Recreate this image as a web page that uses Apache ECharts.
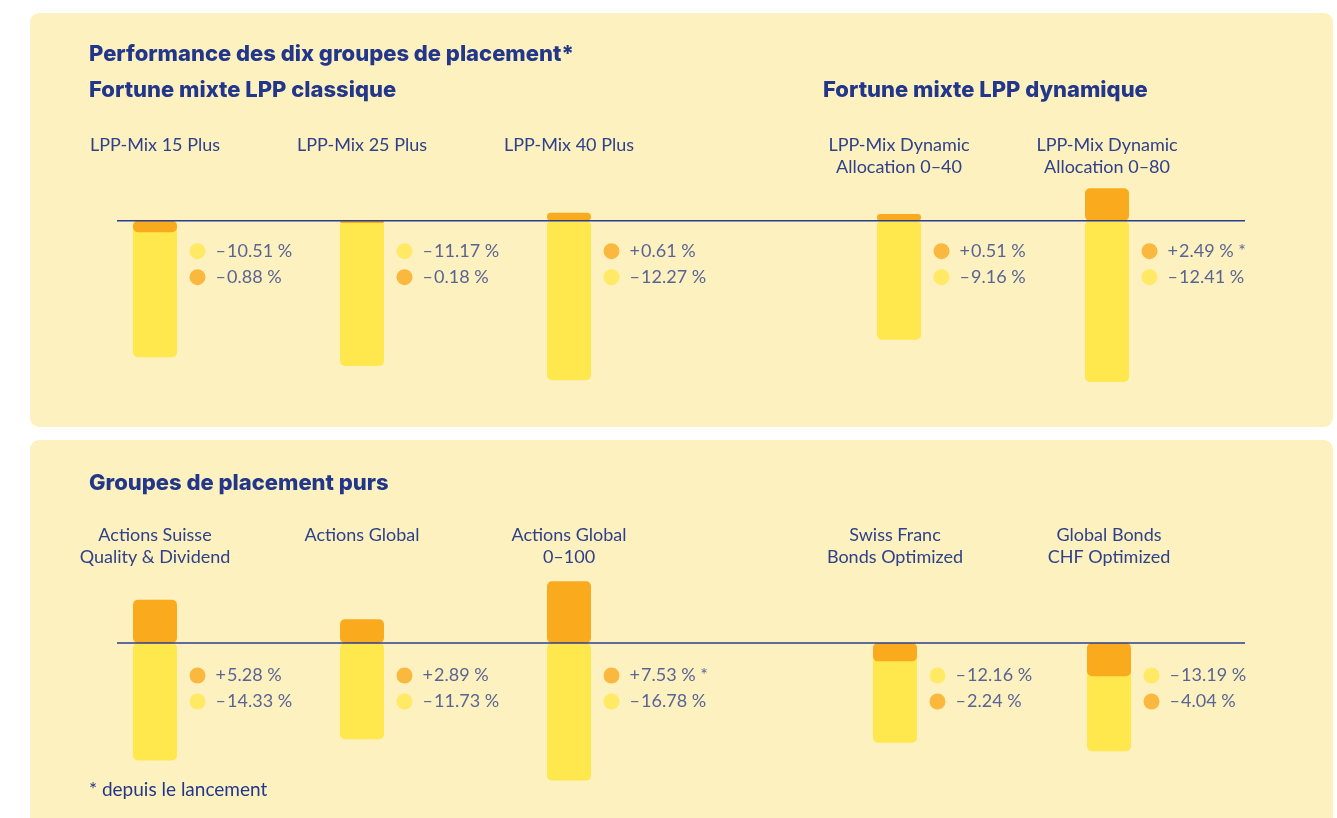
<!DOCTYPE html>
<html>
<head>
<meta charset="utf-8">
<script src="https://cdn.jsdelivr.net/npm/echarts@6/dist/echarts.min.js"></script>
<style>
  html, body { margin: 0; padding: 0; background: #fff; }
  #main { width: 1337px; height: 818px; }
</style>
</head>
<body>
<div id="main"></div>
<script>
// data
const classicNames = ["LPP-Mix 15 Plus", "LPP-Mix 25 Plus", "LPP-Mix 40 Plus"];
const classicYellow = [-10.51, -11.17, -12.27];
const classicOrange = [-0.88, -0.18, 0.61];
const classicStar = [false, false, false];

const dynamicNames = ["LPP-Mix Dynamic\nAllocation 0–40", "LPP-Mix Dynamic\nAllocation 0–80"];
const dynamicYellow = [-9.16, -12.41];
const dynamicOrange = [0.51, 2.49];
const dynamicStar = [false, true];

const pureLeftNames = ["Actions Suisse\nQuality & Dividend", "Actions Global", "Actions Global\n0–100"];
const pureLeftYellow = [-14.33, -11.73, -16.78];
const pureLeftOrange = [5.28, 2.89, 7.53];
const pureLeftStar = [false, false, true];

const pureRightNames = ["Swiss Franc\nBonds Optimized", "Global Bonds\nCHF Optimized"];
const pureRightYellow = [-12.16, -13.19];
const pureRightOrange = [-2.24, -4.04];
const pureRightStar = [false, false];

const NAVY = "#22378a";
const TEXT = "#2f4189";
const YELLOW = "#ffe74e";
const ORANGE = "#f9ab1d";
const PANEL = "#fdf1c0";
const FONT = "Lato, 'Noto Sans', sans-serif";
const HEAD_FONT = "Inter, Lato, sans-serif";

// panel layouts (value range + pixel placement of the zero line)
const panels = [
  { min: -14, max: 3, top: 181.7, height: 221, labelMargin: 47.7, valueDy: 18 },
  { min: -18, max: 8, top: 577.4, height: 213.2, labelMargin: 53.4, valueDy: 20 }
];

const groups = [
  { panel: 0, left: 51.5, width: 621, names: classicNames, yellow: classicYellow, orange: classicOrange, star: classicStar },
  { panel: 0, left: 795, width: 416, names: dynamicNames, yellow: dynamicYellow, orange: dynamicOrange, star: dynamicStar },
  { panel: 1, left: 51.5, width: 621, names: pureLeftNames, yellow: pureLeftYellow, orange: pureLeftOrange, star: pureLeftStar },
  { panel: 1, left: 788, width: 428, names: pureRightNames, yellow: pureRightYellow, orange: pureRightOrange, star: pureRightStar }
];

function fmt(v, star) {
  return (v < 0 ? "–" : "+") + "\u200a" + Math.abs(v).toFixed(2) + " %" + (star ? " *" : "");
}

const grid = [], xAxis = [], yAxis = [], series = [];
groups.forEach(function (g, gi) {
  const p = panels[g.panel];
  grid.push({ left: g.left, width: g.width, top: p.top, height: p.height });
  xAxis.push({
    type: "category",
    gridIndex: gi,
    position: "top",
    data: g.names,
    axisLine: { show: false },
    axisTick: { show: false },
    axisLabel: {
      interval: 0,
      margin: p.labelMargin,
      verticalAlign: "top",
      lineHeight: 22,
      fontSize: 18,
      fontFamily: FONT,
      color: TEXT
    }
  });
  yAxis.push({ type: "value", gridIndex: gi, min: p.min, max: p.max, show: false });
  series.push({
    type: "bar", xAxisIndex: gi, yAxisIndex: gi,
    data: g.yellow, barWidth: 44, barGap: "-100%",
    itemStyle: { color: YELLOW, borderRadius: 5 }
  });
  series.push({
    type: "bar", xAxisIndex: gi, yAxisIndex: gi,
    data: g.orange, barWidth: 44, barGap: "-100%",
    itemStyle: { color: ORANGE, borderRadius: 5 }
  });
  // label anchors on the zero line
  series.push({
    type: "scatter", xAxisIndex: gi, yAxisIndex: gi,
    data: g.names.map(function () { return 0; }),
    symbolSize: 1,
    itemStyle: { color: "transparent" },
    silent: true,
    z: 5,
    label: {
      show: true,
      position: [35, p.valueDy],
      formatter: function (params) {
        const i = params.dataIndex;
        const y = "{dy|}{t|" + fmt(g.yellow[i], false) + "}";
        const o = "{do|}{t|" + fmt(g.orange[i], g.star[i]) + "}";
        return g.orange[i] > 0 ? o + "\n" + y : y + "\n" + o;
      },
      rich: {
        dy: { width: 16, height: 16, borderRadius: 8, backgroundColor: YELLOW, verticalAlign: "middle", lineHeight: 26 },
        do: { width: 16, height: 16, borderRadius: 8, backgroundColor: ORANGE, verticalAlign: "middle", lineHeight: 26 },
        t: { fontSize: 18, fontFamily: FONT, color: TEXT, padding: [0, 0, 0, 10], verticalAlign: "middle", lineHeight: 26 }
      }
    }
  });
});

function heading(text, x, y, size, weight, family) {
  return {
    type: "text", left: x, top: y, z: 10,
    style: { text: text, fill: NAVY, font: weight + " " + size + "px " + family }
  };
}

const graphics = [
  { type: "rect", z: -1, shape: { x: 30, y: 13, width: 1303, height: 414, r: 9 }, style: { fill: PANEL } },
  { type: "rect", z: -1, shape: { x: 30, y: 440, width: 1303, height: 420, r: 9 }, style: { fill: PANEL } },
  heading("Performance des dix groupes de placement*", 89, 43, 22, "800", HEAD_FONT),
  heading("Fortune mixte LPP classique", 89, 79, 22, "800", HEAD_FONT),
  heading("Fortune mixte LPP dynamique", 823, 79, 22, "800", HEAD_FONT),
  heading("Groupes de placement purs", 89, 472, 22, "800", HEAD_FONT),
  heading("* depuis le lancement", 89, 780, 19, "normal", FONT)
];

const chart = echarts.init(document.getElementById("main"));
chart.setOption({
  animation: false,
  grid: grid,
  xAxis: xAxis,
  yAxis: yAxis,
  series: series,
  graphic: graphics
});

// zero lines across each panel, placed through the value scale
const zeroLines = [0, 2].map(function (gi) {
  const y = chart.convertToPixel({ yAxisIndex: gi }, 0);
  return { type: "line", z: 20, shape: { x1: 117, y1: y, x2: 1245, y2: y }, style: { stroke: "#2b3d8f", lineWidth: 1.5 } };
});
chart.setOption({ graphic: graphics.concat(zeroLines) });
</script>
</body>
</html>
